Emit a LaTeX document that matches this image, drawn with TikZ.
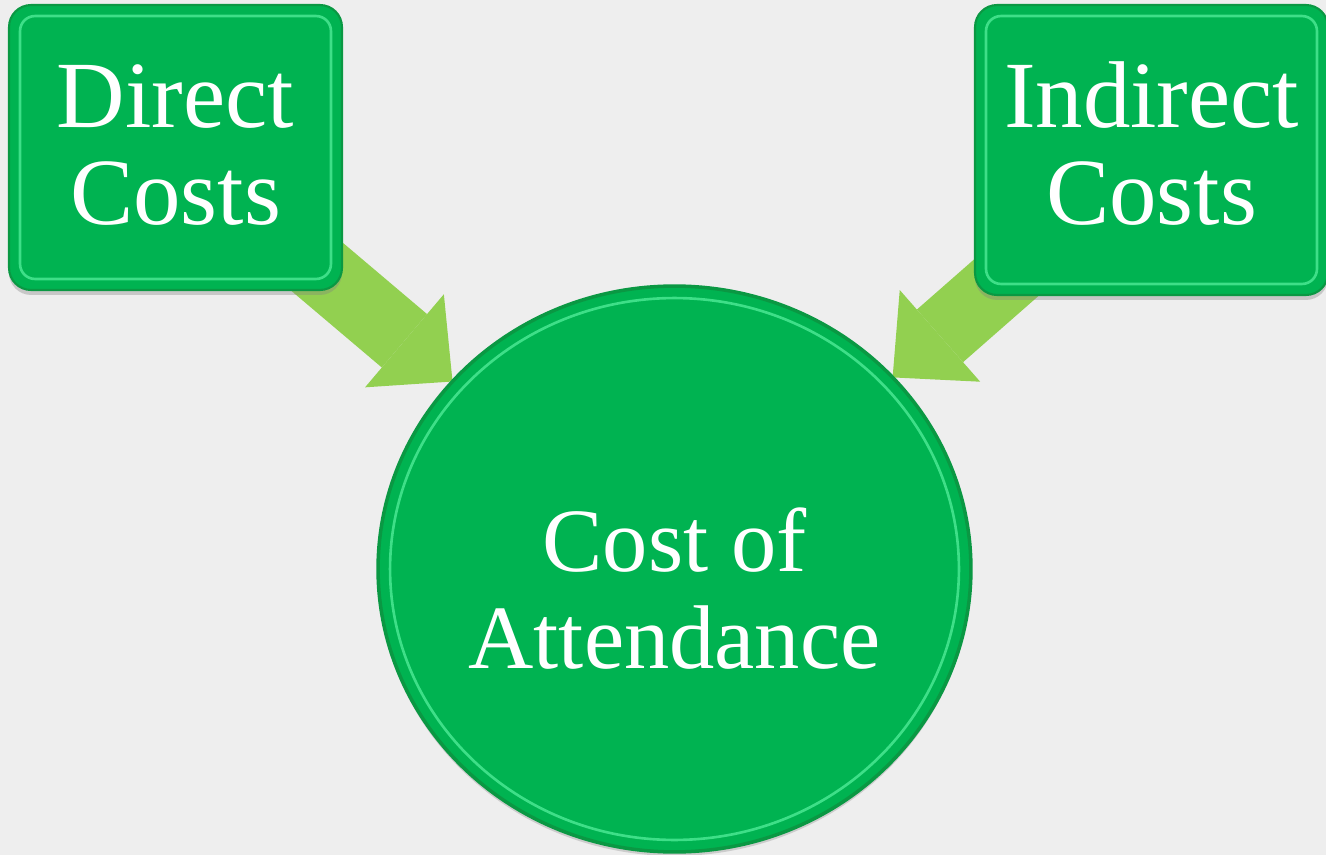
\documentclass[tikz,border=0pt]{standalone}
\usepackage{fontspec}
\setmainfont{Liberation Serif}
\usetikzlibrary{arrows.meta, shapes.geometric, shadows}
\definecolor{boxgreen}{HTML}{00B351}
\definecolor{rimgreen}{HTML}{0A9843}
\definecolor{glowgreen}{HTML}{3EDF88}
\definecolor{arrowgreen}{HTML}{92D050}
\definecolor{paper}{HTML}{EEEEEE}
\pgfdeclarelayer{paper}
\pgfdeclarelayer{arrows}
\pgfsetlayers{paper,arrows,main}
\tikzstyle{every picture} = [x=0.02cm, y=-0.02cm]
\tikzstyle{costbox} = [rectangle, rounded corners=0.44cm, fill=boxgreen, draw=rimgreen, line width=1.2pt, text=white, align=center, inner sep=0pt, outer sep=0pt, font=\fontsize{54}{55}\selectfont, drop shadow={shadow xshift=0pt, shadow yshift=-0.1cm, opacity=0.35}, path picture={\draw[glowgreen, line width=1.5pt, rounded corners=0.3cm] ([shift={(0.22cm,-0.22cm)}]path picture bounding box.north west) rectangle ([shift={(-0.22cm,0.22cm)}]path picture bounding box.south east);}]
\tikzstyle{feed} = [arrowgreen, line width=1.4cm, shorten <=-2cm, -{Triangle[width=2.44cm, length=1.26cm, line width=0pt]}]

\begin{document}
\begin{tikzpicture}
            \begin{pgfonlayer}{paper}
            \fill[paper] (0,0) rectangle (1326,855);
            \end{pgfonlayer}
            \useasboundingbox (0,0) rectangle (1326,855);

            \node (node direct) [costbox, minimum width=6.66cm, minimum height=5.7cm] at (175.5,147.5) {Direct\\Costs\rule[-0.12cm]{0pt}{0pt}};
            \node (node indirect) [costbox, minimum width=7.06cm, minimum height=5.8cm] at (1151.5,150) {Indirect\\Costs\rule[-0.28cm]{0pt}{0pt}};
            \node (node cost) [ellipse, fill=boxgreen, draw=rimgreen, line width=2pt, text=white, align=center, inner sep=0pt, outer sep=0pt, minimum width=11.86cm, minimum height=11.32cm, font=\fontsize{51.5}{55}\selectfont, drop shadow={shadow xshift=0pt, shadow yshift=-0.08cm, opacity=0.3}, path picture={\draw[glowgreen, line width=1.5pt] (path picture bounding box.center) ellipse [x radius=5.69cm, y radius=5.42cm];}] at (674.5,569) {\rule{0pt}{2.06cm}Cost of\\Attendance};

            \begin{pgfonlayer}{arrows}
            \path (node direct) edge[feed] (node cost)
                  (node indirect) edge[feed] (node cost);
            \end{pgfonlayer}
\end{tikzpicture}
\end{document}
